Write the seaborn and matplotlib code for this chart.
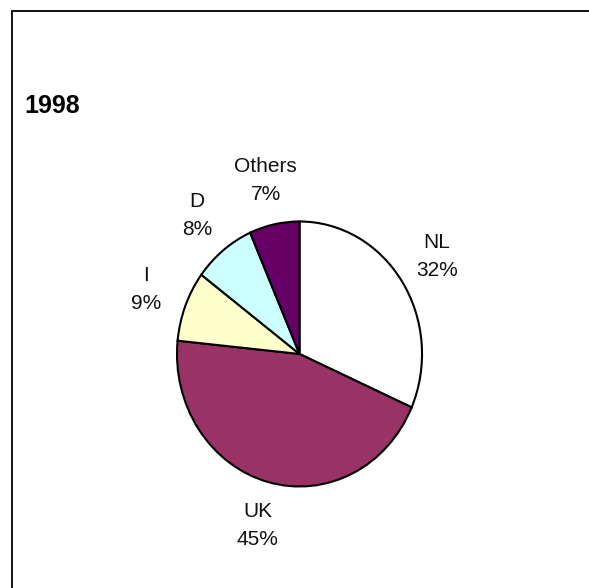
import matplotlib
matplotlib.use("Agg")
import matplotlib.pyplot as plt
import seaborn as sns
from matplotlib.lines import Line2D

# Market share by country, 1998
YEAR = "1998"
COUNTRIES = ["NL", "UK", "I", "D", "Others"]
SHARES = [31.6, 45.0, 8.6, 8.2, 6.6]
COLORS = ["#FFFFFF", "#993366", "#FFFFCC", "#CCFFFF", "#660066"]

sns.set_theme(style="white")
plt.rcParams["font.family"] = ["Liberation Sans", "DejaVu Sans"]
plt.rcParams["text.color"] = "black"

fig = plt.figure(figsize=(5.89, 5.88), dpi=100)
fig.patch.set_facecolor("white")

# chart frame (left and top edges only)
fig.add_artist(Line2D([12 / 589, 12 / 589], [0, 1 - 11 / 588],
                      color="black", lw=1.3, transform=fig.transFigure))
fig.add_artist(Line2D([12 / 589, 1], [1 - 11 / 588, 1 - 11 / 588],
                      color="black", lw=1.3, transform=fig.transFigure))

fig.text(24 / 589, 1 - 106 / 588, YEAR, fontsize=18, fontweight="bold",
         color="black", ha="left", va="center")

ax = fig.add_axes([0.1965, 0.06, 0.624, 0.676])
labels = [f"{c}\n{round(s)}%" for c, s in zip(COUNTRIES, SHARES)]
wedges, texts = ax.pie(
    SHARES,
    labels=labels,
    colors=COLORS,
    startangle=90,
    counterclock=False,
    labeldistance=1.34,
    wedgeprops={"edgecolor": "black", "linewidth": 1.5},
    textprops={"fontsize": 15, "color": "#111111", "linespacing": 1.6},
)
for t in texts:
    t.set_horizontalalignment("center")
    t.set_verticalalignment("center")

ax.set_aspect("auto")
ax.set_xlim(-1.5, 1.5)
ax.set_ylim(-1.5, 1.5)
ax.axis("off")

fig.savefig("out.png", dpi=100, facecolor="white")
